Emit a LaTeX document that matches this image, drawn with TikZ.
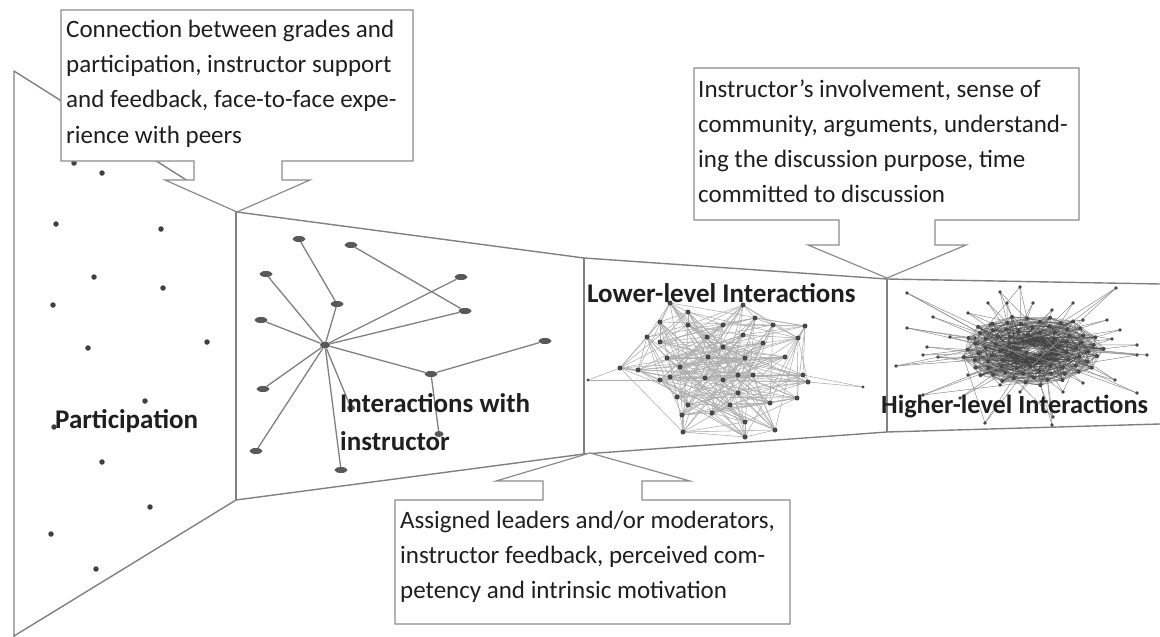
\documentclass[tikz,border=0pt]{standalone}
\usepackage{fontspec}
\setmainfont{Carlito}
\usetikzlibrary{shapes.geometric}
\begin{document}
\begin{tikzpicture}[x=1pt,y=-1pt,
  outline/.style={draw=black!50, line width=1.4pt, line join=round},
  callout/.style={draw=black!45, fill=white, line width=1.2pt, line join=miter},
  calltext/.style={anchor=base west, inner sep=0pt, text=black!88, font=\fontsize{25}{30}\selectfont},
  stagelabel/.style={anchor=base west, inner sep=0pt, text=black!88, font=\fontsize{27}{32}\selectfont\bfseries},
  pdot/.style={circle, fill=black!75, inner sep=0pt, minimum size=5.5pt},
  inode/.style={ellipse, fill=black!65, inner sep=0pt, minimum width=13pt, minimum height=6pt},
  iedge/.style={draw=black!50, line width=1.3pt},
  ledge/.style={draw=black!32, line width=0.55pt},
  hedge/.style={draw=black!75, line width=0.45pt, opacity=0.55},
  spoke/.style={draw=black!45, line width=0.5pt},
  netdot/.style={fill=black!72}
]
\useasboundingbox (0,0) rectangle (1160,637);
\fill[white] (0,0) rectangle (1160,637);

% ---------- funnel outline ----------
\draw[outline] (14,637) -- (14,71) -- (237,212) -- (584,258) -- (887,279) -- (1160,284);
\draw[outline] (14,636) -- (236,500) -- (584,454) -- (887,432) -- (1160,424);
\draw[outline] (236,212) -- (236,500);
\draw[outline] (584,258) -- (584,454);
\draw[outline] (887,279) -- (887,432);

% ---------- stage 1: isolated participants ----------
\foreach \x/\y [count=\i] in {74/163,102/173,56/224,161/229,94/277,163/288,53/305,
  88/348,207/342,145/401,54/427,102/462,150/507,51/534,96/569}
  \node[pdot] (pa\i) at (\x,\y) {};

% ---------- stage 2: star around the instructor ----------
\node[inode] (ia) at (299,239) {};
\node[inode] (ib) at (351,245) {};
\node[inode] (ic) at (266,274) {};
\node[inode] (id) at (461,277) {};
\node[inode] (ie) at (337,304) {};
\node[inode] (if) at (465,311) {};
\node[inode] (ig) at (261,320) {};
\node[inode, minimum width=10pt, minimum height=7pt] (ih) at (325,345) {};
\node[inode] (ii) at (545,341) {};
\node[inode] (ij) at (431,374) {};
\node[inode] (ik) at (263,389) {};
\node[inode, minimum width=8pt] (il) at (351,408) {};
\node[inode, minimum width=9pt] (im) at (439,434) {};
\node[inode] (in) at (256,451) {};
\node[inode] (io) at (341,470) {};
\draw[iedge] (ia) -- (ie);
\draw[iedge] (ie) -- (ih);
\draw[iedge] (ib) -- (if);
\draw[iedge] (ic) -- (ih);
\draw[iedge] (ig) -- (ih);
\draw[iedge] (ih) -- (id);
\draw[iedge] (ih) -- (if);
\draw[iedge] (ih) -- (ij);
\draw[iedge] (ij) -- (ii);
\draw[iedge] (ij) -- (im);
\draw[iedge] (ih) -- (ik);
\draw[iedge] (ih) -- (in);
\draw[iedge] (ih) -- (il);
\draw[iedge] (ih) -- (io);

% ---------- stage 3: lower-level interaction network ----------
\foreach \x/\y [count=\i] in {647/337,660/322,670/303,688/312,688/325,660/342,707/337,
  723/325,743/305,755/318,773/325,805/326,798/338,743/335,763/343,667/358,
  680/367,708/357,723/347,745/358,785/357,670/377,705/378,723/380,738/375,
  753/375,803/375,808/382,660/380,677/397,688/405,738/393,770/403,797/398,
  682/415,712/413,730/405,745/422,683/432,745/437,775/430,638/370,620/368}
  \coordinate (lo\i) at (\x,\y);
\coordinate (loa) at (588,380);
\coordinate (lob) at (863,387);
\foreach \k in {1,...,43}
  \foreach \d in {1,2,4,9,15,22}{
    \pgfmathtruncatemacro\j{mod(\k+\d-1,43)+1}
    \draw[ledge] (lo\k) -- (lo\j);
  }
\draw[ledge] (loa) -- (lo43);
\draw[ledge] (loa) -- (lo29);
\draw[ledge] (lob) -- (lo28);
\draw[ledge] (lob) -- (lo27);
\foreach \k in {1,...,43} \fill[netdot] (lo\k) circle (2.5pt);
\fill[netdot] (loa) circle (1.6pt);
\fill[netdot] (lob) circle (1.6pt);

% ---------- stage 4: higher-level interaction network ----------
% dense core laid out on a golden-angle spiral
\foreach \k in {1,...,90}{
  \pgfmathsetmacro\r{sqrt(\k/90)}
  \pgfmathsetmacro\a{\k*137.508}
  \coordinate (hc\k) at ({1032+72*\r*cos(\a)},{350+36*\r*sin(\a)});
}
\foreach \k in {1,...,90}
  \foreach \d in {1,2,3,5,8,13,21,34,55}{
    \pgfmathtruncatemacro\j{mod(\k+\d-1,90)+1}
    \draw[hedge] (hc\k) -- (hc\j);
  }
% outlying members, each tied to the core node facing it
\foreach \x/\y [count=\i] in {907/293,933/317,907/328,927/347,896/366,923/355,938/357,
  950/337,968/313,988/303,1000/292,1007/303,1020/287,1033/303,1052/310,1073/303,
  1083/320,1107/320,1116/288,1120/330,1112/339,1137/345,1137/355,1147/355,
  1115/380,1137/393,923/395,968/375,985/423,1052/425,1053/417,1083/383,975/338,
  990/325,1063/392,1020/392,1000/385,960/398}{
  \coordinate (hp\i) at (\x,\y);
  \pgfmathsetmacro\th{mod(atan2((\y-350)/36,(\x-1032)/72)+360,360)}
  \xdef\best{70}\xdef\bestd{400}
  \foreach \k in {55,...,90}{
    \pgfmathsetmacro\dd{abs(mod(\k*137.508-\th+540,360)-180)}
    \pgfmathtruncatemacro\better{\dd<\bestd}
    \ifnum\better=1 \xdef\best{\k}\xdef\bestd{\dd}\fi
  }
  \pgfmathtruncatemacro\inner{\best-21}
  \pgfmathtruncatemacro\other{mod(\best+7*\i,90)+1}
  \draw[spoke] (hp\i) -- (hc\best);
  \draw[spoke] (hp\i) -- (hc\inner);
  \ifodd\i \draw[spoke] (hp\i) -- (hc\other); \fi
}
\foreach \k in {1,...,90} \fill[netdot] (hc\k) circle (2pt);
\foreach \k in {1,...,38} \fill[netdot] (hp\k) circle (1.9pt);

% ---------- stage labels ----------
\node[stagelabel] (lab1) at (55,428) {Participation};
\node[stagelabel] (lab2a) at (340,412) {Interactions with};
\node[stagelabel] (lab2b) at (340,450) {instructor};
\node[stagelabel] (lab3) at (587,302) {Lower-level Interactions};
\node[stagelabel, font=\fontsize{26.3}{32}\selectfont\bfseries] (lab4) at (881,413) {Higher-level Interactions};

% ---------- callouts ----------
\draw[callout] (61,10) -- (413,10) -- (413,161) -- (282,161) -- (282,180) -- (310,180)
  -- (237,212) -- (165,180) -- (194,180) -- (194,161) -- (61,161) -- cycle;
\node[calltext] (c1a) at (66,37) {Connection between grades and};
\node[calltext] (c1b) at (66,72.3) {participation, instructor support};
\node[calltext] (c1c) at (66,107.6) {and feedback, face-to-face expe-};
\node[calltext] (c1d) at (66,143) {rience with peers};

\draw[callout] (694,68) -- (1079,68) -- (1079,220) -- (935,220) -- (935,245) -- (966,245)
  -- (887,278) -- (808,245) -- (839,245) -- (839,220) -- (694,220) -- cycle;
\node[calltext] (c2a) at (698,97) {Instructor’s involvement, sense of};
\node[calltext] (c2b) at (698,132) {community, arguments, understand-};
\node[calltext] (c2c) at (698,167) {ing the discussion purpose, time};
\node[calltext] (c2d) at (698,202) {committed to discussion};

\draw[callout] (395,624) -- (395,500) -- (543,500) -- (543,481) -- (496,481) -- (590,453)
  -- (690,481) -- (642,481) -- (642,500) -- (790,500) -- (790,624) -- cycle;
\node[calltext] (c3a) at (400,528) {Assigned leaders and/or moderators,};
\node[calltext] (c3b) at (400,563) {instructor feedback, perceived com-};
\node[calltext] (c3c) at (400,598) {petency and intrinsic motivation};
\end{tikzpicture}
\end{document}
